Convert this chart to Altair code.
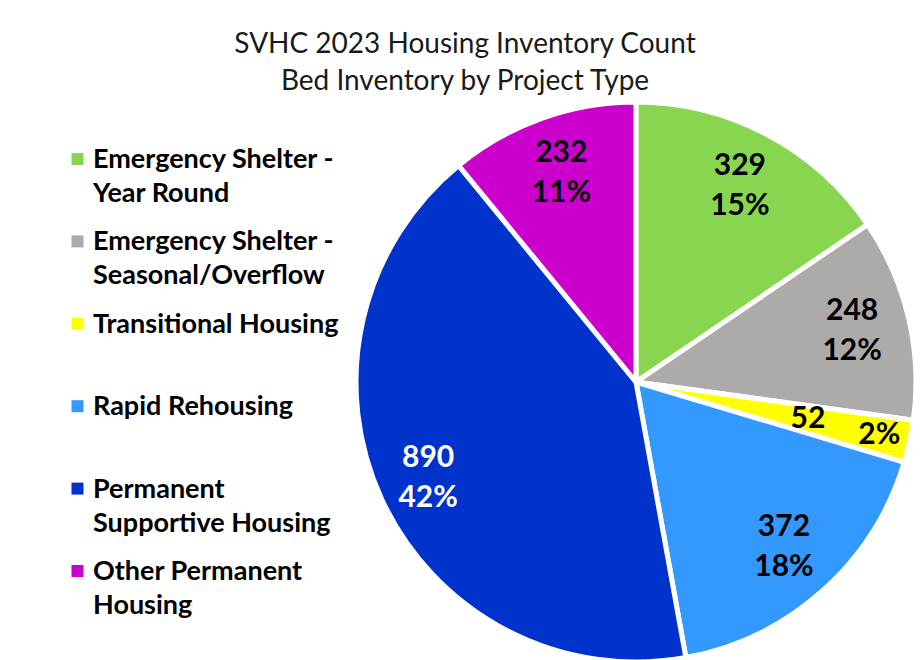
import altair as alt
import pandas as pd

categories = [
    "Emergency Shelter - Year Round",
    "Emergency Shelter - Seasonal/Overflow",
    "Transitional Housing",
    "Rapid Rehousing",
    "Permanent Supportive Housing",
    "Other Permanent Housing",
]
legend_labels = [
    "Emergency Shelter -\nYear Round",
    "Emergency Shelter -\nSeasonal/Overflow",
    "Transitional Housing",
    "Rapid Rehousing",
    "Permanent\nSupportive Housing",
    "Other Permanent\nHousing",
]
values = [329, 248, 52, 372, 890, 232]
colors = ["#88D650", "#ADAAAA", "#FFFF00", "#3399FF", "#0033CC", "#CC00CC"]
title_lines = ["SVHC 2023 Housing Inventory Count", "Bed Inventory by Project Type"]

total = sum(values)
pcts = [f"{round(v / total * 100)}%" for v in values]
small = "Transitional Housing"
big = "Permanent Supportive Housing"

df = pd.DataFrame({
    "category": categories,
    "value": values,
    "order": list(range(len(categories))),
    "legend": legend_labels,
    "label": [("" if c in (small, big) else f"{v}\n{p}") for c, v, p in zip(categories, values, pcts)],
    "label_big": [(f"{v}\n{p}" if c == big else "") for c, v, p in zip(categories, values, pcts)],
    "small_val": [(str(v) if c == small else "") for c, v in zip(categories, values)],
    "small_pct": [(p if c == small else "") for c, p in zip(categories, pcts)],
})

CX, CY = 628, 374
FONT = "Lato"

color = alt.Color("category:N", scale=alt.Scale(domain=categories, range=colors), legend=None)
theta = alt.Theta("value:Q", stack=True)
order = alt.Order("order:Q")

base = alt.Chart(df)

pie = base.mark_arc(radius=280, stroke="white", strokeWidth=5).encode(
    theta=theta, order=order, color=color, x=alt.value(CX), y=alt.value(CY)
)


def label_layer(field, radius, col="black", lines=True):
    kw = dict(lineBreak="\n", lineHeight=40, dy=-20) if lines else {}
    return base.mark_text(
        font=FONT, fontSize=30, fontWeight="bold", baseline="middle", align="center",
        radius=radius, color=col, **kw
    ).encode(theta=theta, order=order, text=f"{field}:N", x=alt.value(CX), y=alt.value(CY))


labels = label_layer("label", 222)
labels_big = label_layer("label_big", 229, col="white")
small_val = label_layer("small_val", 176, lines=False)
small_pct = label_layer("small_pct", 249, lines=False)

ly = alt.Y("category:N", sort=categories, axis=None,
           scale=alt.Scale(type="point", range=[151, 563], padding=0))

leg_sym = base.mark_square(size=144, opacity=1).encode(
    y=ly, x=alt.value(69.5), color=color
)
leg_txt = base.mark_text(
    font=FONT, fontSize=27, fontWeight="bold", lineBreak="\n", lineHeight=34,
    baseline="middle", align="left", color="black", dy=1,
).encode(y=ly, x=alt.value(85), text="legend:N")

title = alt.Chart(pd.DataFrame({"t": ["\n".join(title_lines)]})).mark_text(
    font=FONT, fontSize=28, lineBreak="\n", lineHeight=37, baseline="middle",
    align="center", color="#1a1a1a",
).encode(text="t:N", x=alt.value(457), y=alt.value(37))

chart = alt.layer(pie, labels, labels_big, small_val, small_pct, leg_sym, leg_txt, title).properties(
    width=906, height=652, autosize=alt.AutoSizeParams(type="none"), padding=0
).configure_view(stroke=None)

chart.save("out.html", embed_options={"renderer": "svg", "actions": False})
